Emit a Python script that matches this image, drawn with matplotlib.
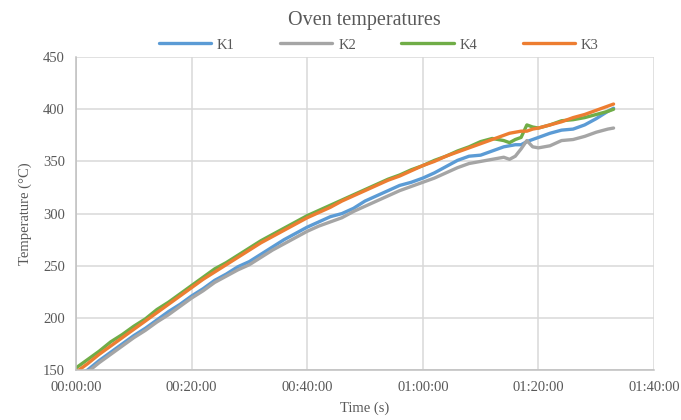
import matplotlib
matplotlib.use("Agg")
import matplotlib.pyplot as plt
from matplotlib.ticker import FuncFormatter, MultipleLocator

# time in minutes since start
t_min = [0, 2, 4, 6, 8, 10, 12, 14, 16, 18, 20, 22, 24, 26, 28, 30, 32, 34, 36, 38,
         40, 42, 44, 46, 48, 50, 52, 54, 56, 58, 60, 62, 64, 66, 68, 70, 72, 74, 75,
         76, 77, 78, 79, 80, 82, 84, 86, 88, 90, 92, 93]

k1 = [143, 150, 159, 167, 175, 183, 190, 198, 206, 213, 221, 228, 236, 242, 249, 254,
      261, 268, 275, 281, 287, 292, 297, 300, 305, 312, 317, 322, 327, 330, 334, 339,
      345, 351, 355, 356, 360, 364, 365, 366, 366, 369, 371, 373, 377, 380, 381, 385,
      391, 398, 401]
k2 = [141, 148, 157, 165, 173, 181, 188, 196, 203, 211, 219, 226, 234, 240, 246, 251,
      258, 265, 271, 277, 283, 288, 292, 296, 302, 307, 312, 317, 322, 326, 330, 334,
      339, 344, 348, 350, 352, 354, 352, 355, 362, 370, 364, 363, 365, 370, 371, 374,
      378, 381, 382]
k4 = [152, 160, 168, 177, 184, 192, 199, 208, 215, 223, 231, 239, 247, 253, 260, 267,
      274, 280, 286, 292, 298, 303, 308, 313, 318, 323, 328, 333, 337, 342, 346, 351,
      355, 360, 364, 369, 372, 370, 368, 371, 373, 385, 383, 382, 385, 389, 390, 392,
      395, 398, 400]
k3 = [148, 156, 165, 173, 181, 189, 197, 205, 213, 221, 229, 237, 244, 251, 258, 265,
      272, 278, 284, 290, 296, 301, 306, 312, 317, 322, 327, 332, 336, 341, 346, 350,
      355, 359, 363, 367, 371, 375, 377, 378, 379, 379, 381, 382, 385, 388, 392, 395,
      399, 403, 405]

series = [("K1", k1, "#5B9BD5"), ("K2", k2, "#A5A5A5"),
          ("K4", k4, "#70AD47"), ("K3", k3, "#ED7D31")]

TEXT = "#595959"
GRID = "#D9D9D9"


def hms(x, pos):
    s = int(round(x * 60))
    return f"{s // 3600:02d}:{(s % 3600) // 60:02d}:{s % 60:02d}"


plt.rcParams["font.family"] = ["Liberation Serif", "DejaVu Serif"]

fig = plt.figure(figsize=(6.81, 4.2), dpi=100)
ax = fig.add_axes([0.1116, 0.119, 0.8488, 0.745])

for name, vals, col in series:
    ax.plot(t_min, vals, color=col, lw=2.4, label=name, solid_capstyle="round")

ax.set_xlim(0, 100)
ax.set_ylim(150, 450)
ax.xaxis.set_major_locator(MultipleLocator(20))
ax.yaxis.set_major_locator(MultipleLocator(50))
ax.xaxis.set_major_formatter(FuncFormatter(hms))

ax.grid(True, color=GRID, lw=1.1)
ax.set_axisbelow(True)
for side in ["top", "right"]:
    ax.spines[side].set_visible(False)
for side in ["left", "bottom"]:
    ax.spines[side].set_color("#BFBFBF")
    ax.spines[side].set_linewidth(1.1)
ax.tick_params(length=0, labelsize=10.5, labelcolor=TEXT, pad=8)

ax.set_xlabel("Time (s)", fontsize=10.5, color=TEXT, labelpad=5)
ax.set_ylabel("Temperature (°C)", fontsize=10.5, color=TEXT, labelpad=8)
fig.suptitle("Oven temperatures", x=0.535, y=0.975, fontsize=14.5, color=TEXT)

fig.legend(loc="center", bbox_to_anchor=(0.556, 0.893), ncol=4, frameon=False,
           fontsize=10.5, labelcolor=TEXT, handlelength=3.6, columnspacing=3.1,
           handletextpad=0.4)

fig.savefig("out.png", dpi=100)
